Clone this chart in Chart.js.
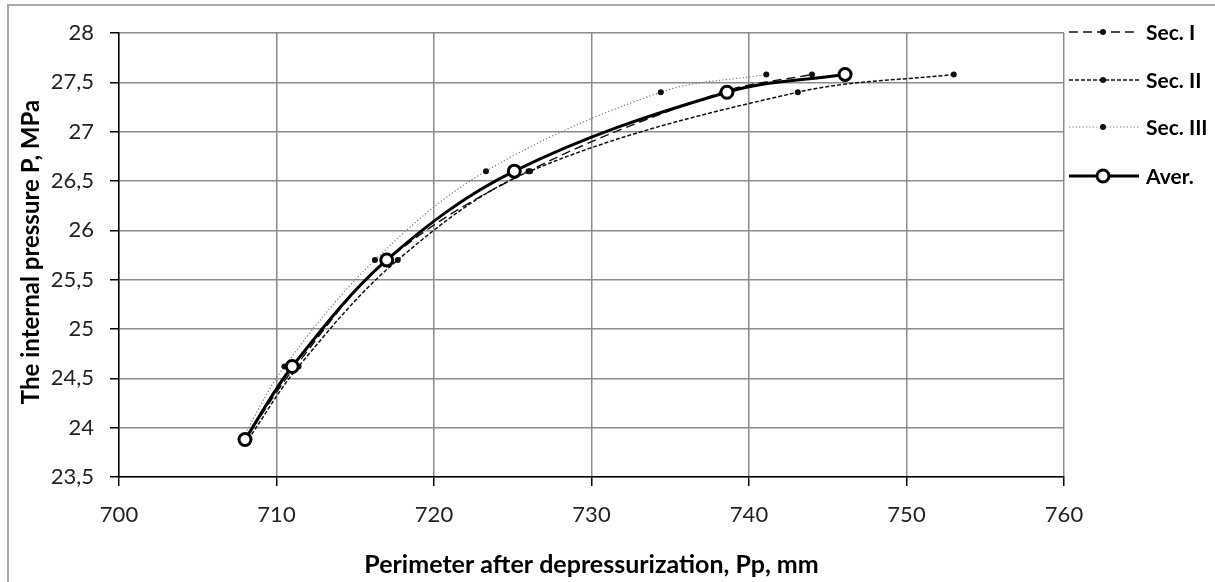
<!DOCTYPE html>
<html>
<head>
<meta charset="utf-8">
<script src="https://cdn.jsdelivr.net/npm/chart.js@4.4.1/dist/chart.umd.min.js"></script>
<style>
  html, body { margin: 0; padding: 0; background: #fff; }
  #wrap { width: 1215px; height: 582px; position: relative; }
</style>
</head>
<body>
<div id="wrap"><canvas id="c"></canvas></div>
<script>
// ---- data ----
const pressure = [23.88, 24.62, 25.70, 26.60, 27.40, 27.58];   // MPa (y)
const secI     = [708.0, 711.2, 717.05, 726.0, 738.3, 744.0];  // mm (x)
const secII    = [708.2, 711.4, 717.7, 726.1, 743.1, 753.0];
const secIII   = [707.8, 710.5, 716.25, 723.3, 734.4, 741.1];
const aver     = [708.0, 711.0, 717.0, 725.1, 738.6, 746.1];
const seriesNames = ['Sec. I', 'Sec. II', 'Sec. III', 'Aver.'];
const xTicks = [700, 710, 720, 730, 740, 750, 760];
const yTicks = [23.5, 24, 24.5, 25, 25.5, 26, 26.5, 27, 27.5, 28];
const xTitle = 'Perimeter after depressurization, Pp, mm';
const yTitle = 'The internal pressure P, MPa';

function pts(xs) { return xs.map((x, i) => ({ x: x, y: pressure[i] })); }

const FONT = 'Lato, "Open Sans", sans-serif';

const datasets = [
  { label: seriesNames[0], data: pts(secI), showLine: true, borderColor: '#111', borderWidth: 1.4,
    borderDash: [9, 5], pointRadius: 3, pointBackgroundColor: '#111', pointBorderColor: '#111',
    pointBorderWidth: 0, tension: 0.35, order: 3 },
  { label: seriesNames[1], data: pts(secII), showLine: true, borderColor: '#111', borderWidth: 1.5,
    borderDash: [4, 2], pointRadius: 3, pointBackgroundColor: '#111', pointBorderColor: '#111',
    pointBorderWidth: 0, tension: 0.35, order: 2 },
  { label: seriesNames[2], data: pts(secIII), showLine: true, borderColor: '#777', borderWidth: 1.2,
    borderDash: [1.2, 2.2], pointRadius: 3, pointBackgroundColor: '#111', pointBorderColor: '#111',
    pointBorderWidth: 0, tension: 0.35, order: 1 },
  { label: seriesNames[3], data: pts(aver), showLine: true, borderColor: '#000', borderWidth: 3,
    pointRadius: 6, pointBackgroundColor: '#fff', pointBorderColor: '#000',
    pointBorderWidth: 3, tension: 0.35, order: 0 }
];

const framePlugin = {
  id: 'frame',
  beforeDraw(chart) {
    const ctx = chart.ctx;
    ctx.save();
    ctx.fillStyle = '#fff';
    ctx.fillRect(0, 0, chart.width, chart.height);
    ctx.strokeStyle = '#a8a8a8';
    ctx.lineWidth = 2;
    ctx.strokeRect(8, 5, chart.width + 20, chart.height + 20);
    ctx.restore();
  }
};

const extrasPlugin = {
  id: 'extras',
  afterDraw(chart) {
    const ctx = chart.ctx;
    const ca = chart.chartArea;
    ctx.save();
    // axis titles
    ctx.fillStyle = '#000';
    ctx.textAlign = 'center';
    ctx.textBaseline = 'middle';
    ctx.font = 'bold 25px ' + FONT;
    ctx.fillText(xTitle, (ca.left + ca.right) / 2, 565);
    ctx.save();
    ctx.font = 'bold 24px ' + FONT;
    ctx.translate(31, (ca.top + ca.bottom) / 2 - 3);
    ctx.rotate(-Math.PI / 2);
    ctx.fillText(yTitle, 0, 0);
    ctx.restore();

    // legend
    const ys = [32, 80, 127, 176];
    const x0 = 1069, x1 = 1139, xm = 1103;
    chart.data.datasets.forEach((ds, i) => {
      const y = ys[i];
      ctx.save();
      ctx.strokeStyle = ds.borderColor;
      ctx.lineWidth = ds.borderWidth;
      ctx.setLineDash(ds.borderDash || []);
      ctx.beginPath();
      ctx.moveTo(x0, y);
      ctx.lineTo(x1, y);
      ctx.stroke();
      ctx.setLineDash([]);
      ctx.beginPath();
      ctx.arc(xm, y, ds.pointRadius, 0, Math.PI * 2);
      ctx.fillStyle = ds.pointBackgroundColor;
      ctx.fill();
      if (ds.pointBorderWidth) {
        ctx.lineWidth = ds.pointBorderWidth;
        ctx.strokeStyle = ds.pointBorderColor;
        ctx.stroke();
      }
      ctx.restore();
      ctx.fillStyle = '#000';
      ctx.font = 'bold 21px ' + FONT;
      ctx.textAlign = 'left';
      ctx.textBaseline = 'middle';
      ctx.fillText(ds.label, 1146, y + 1);
    });
    ctx.restore();
  }
};

new Chart(document.getElementById('c'), {
  type: 'scatter',
  data: { datasets: datasets },
  options: {
    responsive: true,
    maintainAspectRatio: false,
    animation: false,
    devicePixelRatio: 1,
    layout: { padding: { left: 10, top: 33, right: 151, bottom: 0 } },
    plugins: { legend: { display: false }, tooltip: { enabled: false } },
    scales: {
      x: {
        type: 'linear', min: xTicks[0], max: xTicks[xTicks.length - 1],
        afterBuildTicks(scale) { scale.ticks = xTicks.map(v => ({ value: v })); },
        afterFit(scale) { scale.height = 105; },
        grid: { color: '#8c8c8c', lineWidth: 1.5, tickColor: '#000', tickLength: 9 },
        border: { color: '#000', width: 1.5 },
        ticks: { color: '#222', font: { family: FONT, size: 22 }, padding: 16,
                 callback: v => String(v) }
      },
      y: {
        type: 'linear', min: yTicks[0], max: yTicks[yTicks.length - 1],
        afterBuildTicks(scale) { scale.ticks = yTicks.map(v => ({ value: v })); },
        afterFit(scale) { scale.width = 109; },
        grid: { color: '#8c8c8c', lineWidth: 1.5, tickColor: '#000', tickLength: 9 },
        border: { color: '#000', width: 1.5 },
        ticks: { color: '#222', font: { family: FONT, size: 22 }, padding: 16,
                 callback: v => String(v).replace('.', ',') }
      }
    }
  },
  plugins: [framePlugin, extrasPlugin]
});
</script>
</body>
</html>
